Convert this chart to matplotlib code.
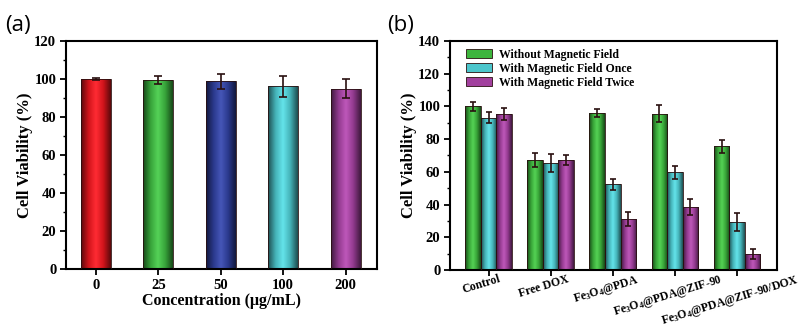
import numpy as np
import matplotlib
matplotlib.use("Agg")
import matplotlib.pyplot as plt
import matplotlib.transforms as mtransforms
from matplotlib.colors import LinearSegmentedColormap, to_rgb
from matplotlib.patches import Patch

plt.rcParams['font.family'] = ['Liberation Serif', 'DejaVu Serif']
plt.rcParams['font.weight'] = 'bold'
plt.rcParams['mathtext.fontset'] = 'custom'
plt.rcParams['mathtext.rm'] = 'Liberation Serif:bold'
plt.rcParams['mathtext.it'] = 'Liberation Serif:bold'

# panel (a)
conc = ['0', '25', '50', '100', '200']
via_a = [100.0, 99.3, 98.8, 96.0, 94.9]
err_a = [0.5, 2.0, 4.0, 5.7, 5.0]
cols_a = ['#e8161e', '#3db540', '#2f3f9c', '#4cc6cc', '#a2409e']

# panel (b)
groups = ['Control', 'Free DOX', r'Fe$_3$O$_4$@PDA', r'Fe$_3$O$_4$@PDA@ZIF-90',
          r'Fe$_3$O$_4$@PDA@ZIF-90/DOX']
series = ['Without Magnetic Field', 'With Magnetic Field Once', 'With Magnetic Field Twice']
no_field = [100.0, 67.2, 96.0, 95.6, 75.5]
no_field_err = [2.7, 4.0, 2.5, 5.0, 3.9]
once = [93.0, 65.5, 52.3, 59.6, 29.5]
once_err = [3.4, 5.5, 3.5, 4.0, 5.5]
twice = [95.2, 67.0, 31.3, 38.5, 9.8]
twice_err = [3.5, 3.0, 4.4, 5.0, 3.0]
cols_b = ['#3db53d', '#4cc6cc', '#a2409e']


def shade(ax, bars, color):
    # cylinder-like shading: dark edges, light middle
    c = np.array(to_rgb(color))
    cmap = LinearSegmentedColormap.from_list(
        's', [c * 0.4, c * 0.9, np.minimum(c * 1.05 + 0.08, 1), c * 0.9, c * 0.4])
    grad = np.linspace(0, 1, 64).reshape(1, -1)
    for b in bars:
        x0, y0 = b.get_x(), b.get_y()
        w, h = b.get_width(), b.get_height()
        im = ax.imshow(grad, cmap=cmap, aspect='auto', extent=(x0, x0 + w, y0, y0 + h),
                       zorder=2, interpolation='bilinear')
        im.set_clip_path(b)


def style(ax):
    for s in ax.spines.values():
        s.set_linewidth(1.5)
    ax.tick_params(axis='both', direction='out', width=1.3, length=4, labelsize=10.5, pad=3)
    ax.tick_params(axis='y', which='minor', direction='out', width=1.0, length=2.5)
    for t in ax.get_yticklabels() + ax.get_xticklabels():
        t.set_fontweight('bold')


fig = plt.figure(figsize=(8, 3.29), dpi=100)

ax1 = fig.add_axes([0.0825, 0.1815, 0.3885, 0.6945])
x = np.arange(len(conc))
for i in range(len(conc)):
    bars = ax1.bar(x[i], via_a[i], width=0.48, color=cols_a[i], edgecolor='#2a1010',
                   linewidth=0.6, zorder=3)
    bars[0].set_facecolor('none')
    shade(ax1, bars, cols_a[i])
ax1.errorbar(x, via_a, yerr=err_a, fmt='none', ecolor='#2a1010', elinewidth=1.2,
             capsize=3, capthick=1.2, zorder=4)
ax1.set_xlim(-0.48, 4.5)
ax1.set_ylim(0, 120)
ax1.set_yticks(np.arange(0, 121, 20))
ax1.set_yticks(np.arange(0, 121, 10), minor=True)
ax1.set_xticks(x)
ax1.set_xticklabels(conc)
ax1.set_ylabel('Cell Viability (%)', fontsize=12, fontweight='bold', labelpad=1)
ax1.set_xlabel('Concentration (\u03bcg/mL)', fontsize=11.5, fontweight='bold', labelpad=1)
style(ax1)

ax2 = fig.add_axes([0.5625, 0.179, 0.4085, 0.697])
xg = np.arange(len(groups))
w = 0.25
vals = [no_field, once, twice]
errs = [no_field_err, once_err, twice_err]
for k in range(3):
    pos = xg + (k - 1) * w
    bars = ax2.bar(pos, vals[k], width=w, color=cols_b[k], edgecolor='#2a1010',
                   linewidth=0.6, zorder=3)
    for b in bars:
        b.set_facecolor('none')
    shade(ax2, bars, cols_b[k])
    ax2.errorbar(pos, vals[k], yerr=errs[k], fmt='none', ecolor='#2a1010', elinewidth=1.2,
                 capsize=2.5, capthick=1.2, zorder=4)
ax2.set_xlim(-0.62, 4.64)
ax2.set_ylim(0, 140)
ax2.set_yticks(np.arange(0, 141, 20))
ax2.set_yticks(np.arange(0, 141, 10), minor=True)
ax2.set_xticks(xg)
ax2.set_xticklabels(groups, rotation=17, ha='center')
ax2.set_ylabel('Cell Viability (%)', fontsize=12, fontweight='bold', labelpad=1)
style(ax2)
ax2.tick_params(axis='x', pad=-2)
shift = mtransforms.ScaledTranslation(-7 / 100, 0, fig.dpi_scale_trans)
for t in ax2.get_xticklabels():
    t.set_fontsize(8.5)
    t.set_transform(t.get_transform() + shift)
handles = [Patch(facecolor=c, edgecolor='#2a1010', linewidth=0.6) for c in cols_b]
ax2.legend(handles, series, loc='upper left', bbox_to_anchor=(0.025, 1.0), frameon=False,
           handlelength=2.2, handleheight=0.8, labelspacing=0.15, borderaxespad=0.3,
           handletextpad=0.6, prop={'weight': 'bold', 'size': 8.5})

fig.text(0.006, 0.905, '(a)', fontsize=16, family=['Open Sans', 'DejaVu Sans'], fontweight='normal')
fig.text(0.484, 0.905, '(b)', fontsize=16, family=['Open Sans', 'DejaVu Sans'], fontweight='normal')

fig.savefig('out.png', dpi=100)
